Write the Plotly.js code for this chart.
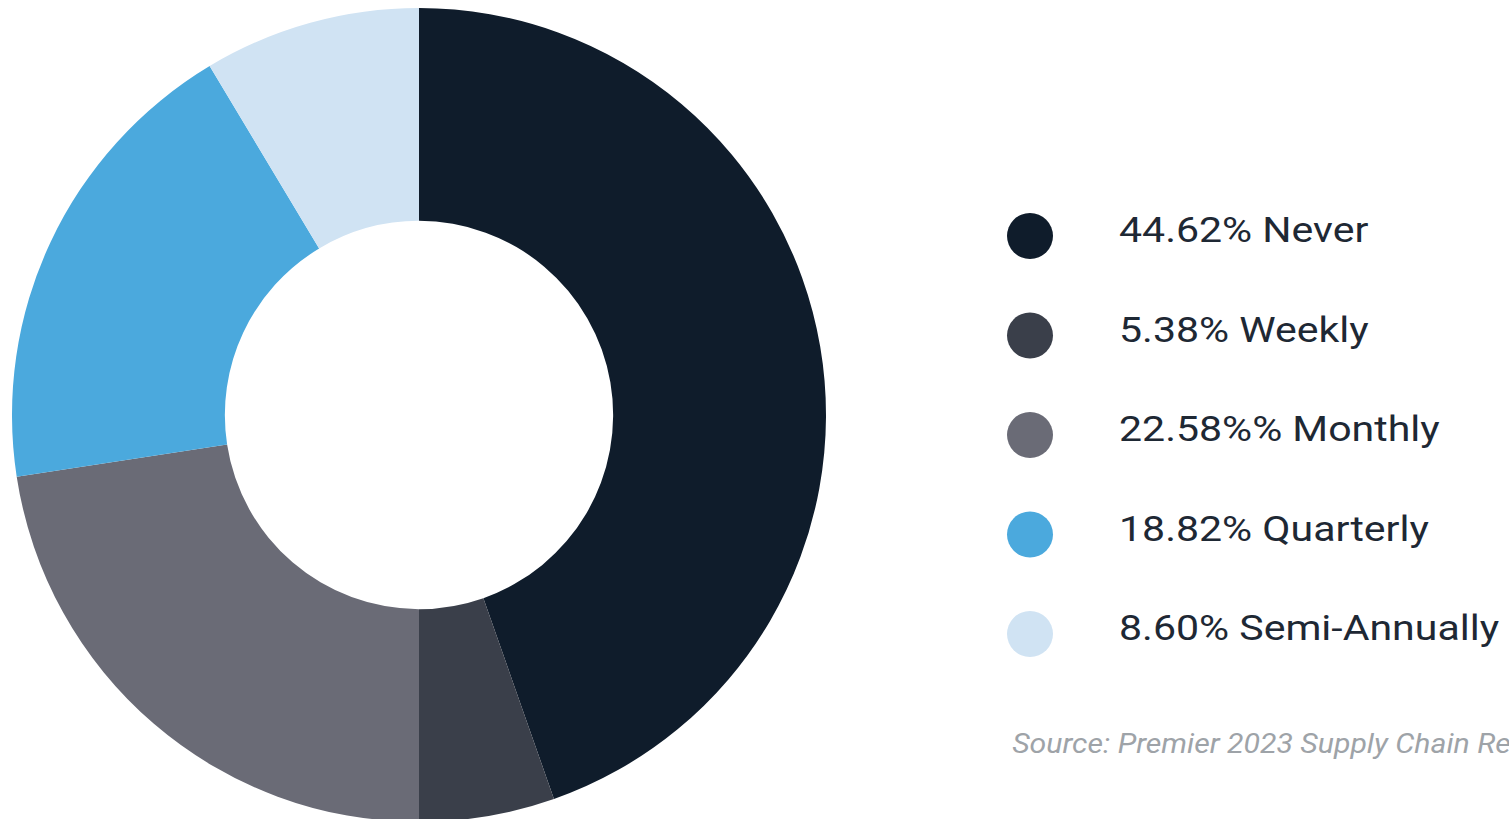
<!DOCTYPE html>
<html>
<head>
<meta charset="utf-8">
<script src="https://cdn.plot.ly/plotly-3.0.1.min.js"></script>
<style>
html, body { margin: 0; padding: 0; overflow: hidden; background: #ffffff; }
#chart { width: 1509px; height: 830px; }
.annotation .annotation-text {
  transform-box: fill-box;
  transform-origin: left center;
  transform: scaleX(1.14);
}
.annotation[data-index="5"] .annotation-text { transform: scaleX(1.08); }
</style>
</head>
<body>
<div id="chart"></div>
<script>
const categories = ["Never", "Weekly", "Monthly", "Quarterly", "Semi-Annually"];
const values = [44.62, 5.38, 22.58, 18.82, 8.60];
const legendLabels = ["44.62% Never", "5.38% Weekly", "22.58%% Monthly", "18.82% Quarterly", "8.60% Semi-Annually"];
const colors = ["#0f1c2b", "#3a3f4a", "#6a6b76", "#4ba9dd", "#d0e3f3"];
const sourceText = "Source: Premier 2023 Supply Chain Report";

const W = 1509, H = 830;
const px = x => x / W;
const py = y => (H - y) / H;

const pie = {
  type: "pie",
  labels: categories,
  values: values,
  sort: false,
  direction: "clockwise",
  rotation: 0,
  hole: 0.477,
  textinfo: "none",
  hoverinfo: "label+percent",
  showlegend: false,
  marker: { colors: colors, line: { width: 0 } },
  domain: { x: [px(12), px(826)], y: [py(822), py(8)] }
};

const shapes = [];
const annotations = [];
const y0 = 236, step = 99.5, r = 23, cx = 1030;
categories.forEach((c, i) => {
  const cy = y0 + i * step;
  shapes.push({
    type: "circle", xref: "paper", yref: "paper",
    x0: px(cx - r), x1: px(cx + r), y0: py(cy + r), y1: py(cy - r),
    fillcolor: colors[i], line: { width: 0 }
  });
  annotations.push({
    xref: "paper", yref: "paper", x: px(1117), y: py(cy - 6),
    xanchor: "left", yanchor: "middle", showarrow: false,
    text: legendLabels[i],
    font: { family: "Roboto, sans-serif", size: 36, color: "#1e2834" }
  });
});
annotations.push({
  xref: "paper", yref: "paper", x: px(1010), y: py(743),
  xanchor: "left", yanchor: "middle", showarrow: false,
  text: "<i>" + sourceText + "</i>",
  font: { family: "Roboto, sans-serif", size: 28, color: "#9ea3a8" }
});

const layout = {
  width: W, height: H,
  margin: { l: 0, r: 0, t: 0, b: 0 },
  paper_bgcolor: "#ffffff",
  plot_bgcolor: "#ffffff",
  shapes: shapes,
  annotations: annotations
};

Plotly.newPlot("chart", [pie], layout, { displayModeBar: false, staticPlot: true });
</script>
</body>
</html>
